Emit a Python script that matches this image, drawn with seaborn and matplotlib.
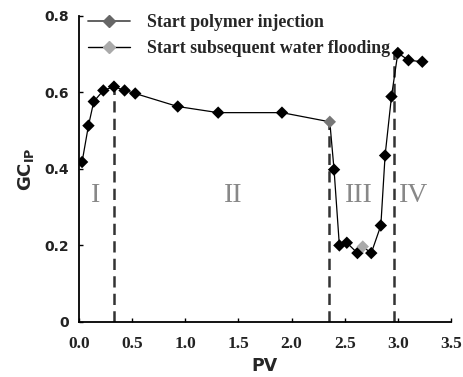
import matplotlib
matplotlib.use("Agg")
import matplotlib.pyplot as plt
import seaborn as sns
import pandas as pd
from matplotlib.lines import Line2D

pv = [0.03, 0.09, 0.14, 0.23, 0.33, 0.43, 0.53, 0.93, 1.31, 1.91, 2.36, 2.40, 2.45,
      2.52, 2.62, 2.67, 2.75, 2.84, 2.88, 2.94, 3.00, 3.10, 3.23]
gcip = [0.418, 0.513, 0.576, 0.605, 0.615, 0.605, 0.597, 0.563, 0.547, 0.547, 0.523,
        0.398, 0.200, 0.207, 0.180, 0.197, 0.180, 0.252, 0.435, 0.589, 0.703, 0.684, 0.680]
marker_kind = ["data"] * 23
marker_kind[10] = "polymer"
marker_kind[15] = "water"

stage_bounds = [0.33, 2.35, 2.96]
stage_tops = [0.61, 0.52, 0.70]
stage_names = ["I", "II", "III", "IV"]
stage_x = [0.16, 1.45, 2.63, 3.15]
stage_y = [0.33, 0.33, 0.33, 0.33]

legend_labels = ["Start polymer injection", "Start subsequent water flooding"]
x_ticks = [0.0, 0.5, 1.0, 1.5, 2.0, 2.5, 3.0, 3.5]
y_ticks = [0, 0.2, 0.4, 0.6, 0.8]
y_tick_labels = ["0", "0.2", "0.4", "0.6", "0.8"]

df = pd.DataFrame({"PV": pv, "GC": gcip, "kind": marker_kind})

sns.set_style("white")
fig = plt.figure(figsize=(4.64, 3.77), dpi=100)
ax = fig.add_axes([0.170, 0.146, 0.802, 0.812])

sns.lineplot(data=df, x="PV", y="GC", color="black", linewidth=0.9, ax=ax,
             sort=False, legend=False)
palette = {"data": "black", "polymer": "#777777", "water": "#aaaaaa"}
sns.scatterplot(data=df, x="PV", y="GC", hue="kind", palette=palette, marker="D",
                s=40, edgecolor="none", ax=ax, legend=False, zorder=5)

for xb, yt in zip(stage_bounds, stage_tops):
    ax.plot([xb, xb], [0, yt], color="#333333", linestyle=(0, (4.5, 2.5)), linewidth=1.8, zorder=1)

for name, xs, ys in zip(stage_names, stage_x, stage_y):
    ax.text(xs, ys, name, fontsize=20, color="#888888", ha="center", va="center",
            family="Liberation Serif")

ax.set_xlim(0, 3.5)
ax.set_ylim(0, 0.8)
ax.set_xticks(x_ticks)
ax.set_xticklabels([f"{v:.1f}" for v in x_ticks], family="Liberation Serif",
                   fontsize=12.5, fontweight="bold", color="#222222")
ax.set_yticks(y_ticks)
ax.set_yticklabels(y_tick_labels, fontsize=10, fontweight="bold", color="#222222")
ax.tick_params(axis="y", direction="in", length=3, width=1, color="black", left=True, pad=7)
ax.tick_params(axis="x", direction="in", length=3, width=1, color="black", bottom=True, pad=10)
ax.set_xlabel("PV", fontsize=12.5, fontweight="bold", labelpad=4)
ax.set_ylabel(r"GC$_{\mathbf{IP}}$", fontsize=13, fontweight="bold", labelpad=6)
for s in ["top", "right"]:
    ax.spines[s].set_visible(False)
for s in ["left", "bottom"]:
    ax.spines[s].set_color("black")
    ax.spines[s].set_linewidth(1.3)

handles = [
    Line2D([], [], color="#555555", linewidth=1.3, marker="D", markersize=6,
           markerfacecolor="#666666", markeredgecolor="#666666"),
    Line2D([], [], color="black", linewidth=1.0, marker="D", markersize=6,
           markerfacecolor="#aaaaaa", markeredgecolor="#aaaaaa"),
]
leg = ax.legend(handles, legend_labels, loc="upper left", bbox_to_anchor=(0.0, 1.035),
                frameon=False, handlelength=2.4, handletextpad=0.95, labelspacing=0.5,
                borderaxespad=0.1, prop={"family": "Liberation Serif", "weight": "bold", "size": 12.8})

fig.savefig("out.png", dpi=100)
